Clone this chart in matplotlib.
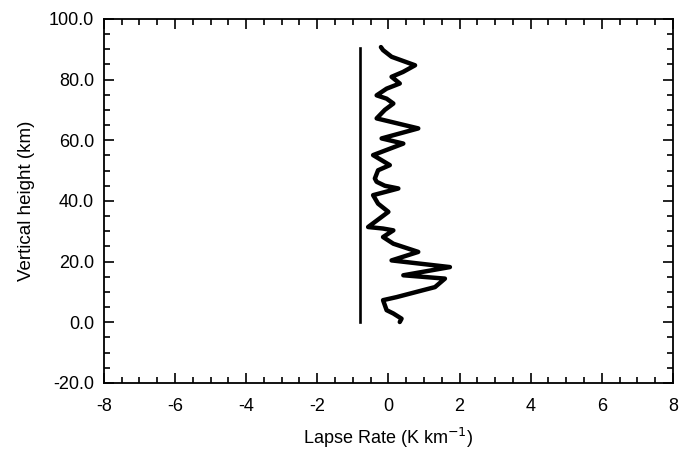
import matplotlib
matplotlib.use('Agg')
import matplotlib.pyplot as plt
from matplotlib.ticker import MultipleLocator, FormatStrFormatter

plt.rcParams['font.family'] = ['Liberation Sans', 'DejaVu Sans']
plt.rcParams['axes.unicode_minus'] = False

# reference lapse rate (straight line)
ref_rate = [-0.8, -0.8]
ref_height = [0.0, 90.5]

height = [90.7, 89.7, 87.5, 84.7, 82.5, 80.9, 78.7, 77.0, 74.8, 73.7, 72.1,
          70.0, 67.2, 63.9, 60.6, 58.9, 55.1, 51.8, 50.1, 47.4, 46.3, 45.0,
          44.1, 41.9, 39.1, 36.4, 31.4, 30.9, 30.3, 28.1, 25.9, 23.2, 20.4,
          18.2, 15.5, 14.4, 11.6, 10.6, 8.3, 7.3, 4.0, 2.9, 1.2, 0.1]
rate = [-0.21, -0.15, 0.09, 0.75, 0.41, 0.09, 0.32, -0.05, -0.33, -0.05, 0.14,
        -0.1, -0.33, 0.84, -0.19, 0.42, -0.43, 0.04, -0.29, -0.38, -0.33, -0.10,
        0.28, -0.43, -0.29, 0.0, -0.57, -0.15, 0.14, -0.15, 0.14, 0.84, 0.09,
        1.73, 0.42, 1.59, 1.31, 0.98, 0.23, -0.15, -0.05, 0.14, 0.37, 0.32]

fig = plt.figure(figsize=(6.79, 4.49), dpi=100)
ax = fig.add_axes([0.153, 0.147, 0.838, 0.811])

ax.plot(ref_rate, ref_height, color='black', linewidth=1.9)
ax.plot(rate, height, color='black', linewidth=3.2,
        solid_joinstyle='round', solid_capstyle='round')

ax.set_xlim(-8, 8)
ax.set_ylim(-20, 100)
ax.xaxis.set_major_locator(MultipleLocator(2))
ax.xaxis.set_minor_locator(MultipleLocator(0.5))
ax.yaxis.set_major_locator(MultipleLocator(20))
ax.yaxis.set_minor_locator(MultipleLocator(5))
ax.yaxis.set_major_formatter(FormatStrFormatter('%.1f'))
ax.tick_params(which='both', direction='in', top=True, right=True, labelsize=13, width=1.2)
ax.tick_params(which='major', length=7)
ax.tick_params(which='minor', length=4)
ax.tick_params(axis='x', which='major', pad=11)
ax.tick_params(axis='y', which='major', pad=7)
for s in ax.spines.values():
    s.set_linewidth(1.3)

ax.set_xlabel('Lapse Rate (K km$^{-1}$)', fontsize=13, labelpad=8)
ax.set_ylabel('Vertical height (km)', fontsize=13.5, labelpad=10)

fig.savefig('out.png', dpi=100)
